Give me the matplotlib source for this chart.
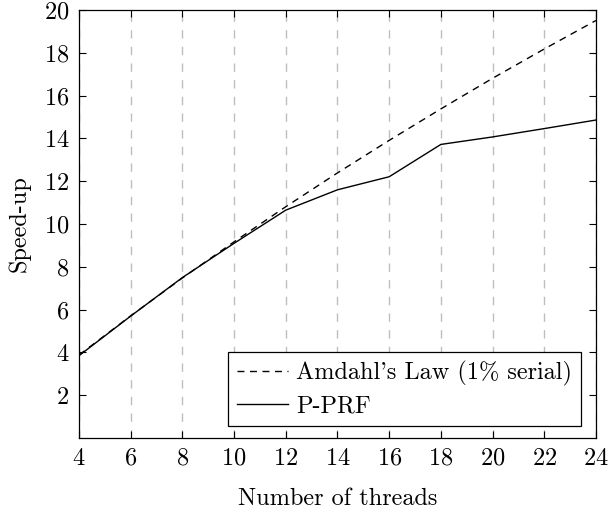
import matplotlib
matplotlib.use('Agg')
from matplotlib import pyplot as plt

plt.rcParams['font.family'] = 'serif'
plt.rcParams['font.serif'] = ['cmr10']
plt.rcParams['mathtext.fontset'] = 'cm'
plt.rcParams['axes.formatter.use_mathtext'] = True

threads = [4, 6, 8, 10, 12, 14, 16, 18, 20, 22, 24]
amdahl = [3.88, 5.71, 7.48, 9.17, 10.81, 12.39, 13.91, 15.38, 16.81, 18.18, 19.51]
pprf = [3.85, 5.70, 7.50, 9.10, 10.65, 11.60, 12.21, 13.72, 14.07, 14.46, 14.86]

x_ticks = [4, 6, 8, 10, 12, 14, 16, 18, 20, 22, 24]
y_ticks = [2, 4, 6, 8, 10, 12, 14, 16, 18, 20]

FS = 17.5

fig = plt.figure(figsize=(6.1, 5.16), dpi=100)
ax = fig.add_axes([0.1295, 0.151, 0.8475, 0.8296])

ax.plot(threads, amdahl, color='black', linestyle=(0, (5, 4)), linewidth=1.0,
        label="Amdahl's Law (1% serial)")
ax.plot(threads, pprf, color='black', linewidth=1.0, label='P-PRF')

ax.set_xlim(4, 24)
ax.set_ylim(0, 20)
ax.set_xticks(x_ticks)
ax.set_yticks(y_ticks)
ax.xaxis.grid(True, color='#bdbdbd', linestyle=(0, (6, 6)), linewidth=1.0)
ax.tick_params(direction='in', length=5, width=0.8, labelsize=FS,
               top=True, right=True, pad=7)
for spine in ax.spines.values():
    spine.set_linewidth(0.9)

ax.set_xlabel('Number of threads', fontsize=FS, labelpad=13)
ax.set_ylabel('Speed-up', fontsize=FS, labelpad=9)

leg = ax.legend(loc='lower right', fontsize=FS, frameon=True, fancybox=False,
                edgecolor='black', framealpha=1.0, handlelength=2.1,
                handletextpad=0.35, borderpad=0.35, labelspacing=0.4,
                borderaxespad=0.0, bbox_to_anchor=(0.971, 0.028))
leg.get_frame().set_linewidth(0.9)

plt.savefig('out.png', dpi=100)
